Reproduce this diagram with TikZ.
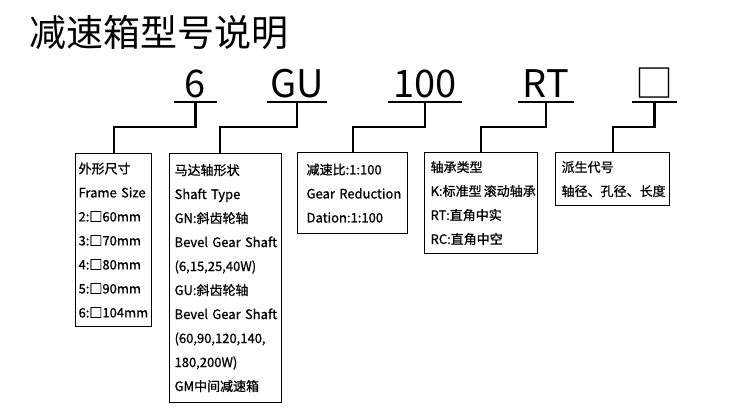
\documentclass[tikz,border=0pt]{standalone}
\usepackage{fontspec}
\setmainfont{Noto Sans CJK SC}
\newfontfamily\boxfont{Noto Sans CJK SC}[FakeBold=0.8]
\hyphenpenalty=10000
\exhyphenpenalty=10000
\tikzset{
  infobox/.style={draw, line width=1.2pt, anchor=north west, align=left,
    font=\boxfont\fontsize{13}{24}\selectfont, inner ysep=0pt},
  codepart/.style={font=\fontsize{38}{38}\selectfont, anchor=base,
    text depth=0pt, inner ysep=4pt, minimum width=#1},
  underline/.style={line width=2.4pt},
  link/.style={line width=2.2pt}
}

\begin{document}
\begin{tikzpicture}[x=1pt, y=-1pt]
    \useasboundingbox (0,0) rectangle (750,420);
    \node[anchor=base west, inner sep=0pt, font=\fontsize{37}{37}\selectfont] (title) at (29,47) {减速箱型号说明};

    % model code
    \node[codepart=43] (csize) at (195.5,98) {6};
    \node[codepart=56] (cshaft) at (297,98) {GU};
    \node[codepart=74] (cratio) at (425,98) {100};
    \node[codepart=56] (cbearing) at (546,98) {RT};
    \node[codepart=43] (cextra) at (654.5,98) {□};
    \foreach \c in {csize, cshaft, cratio, cbearing, cextra}
        \draw[underline] (\c.south west) -- (\c.south east);

    % explanation boxes
    \node[infobox, minimum width=76, minimum height=173, inner xsep=3pt, text width=70pt] (size) at (75,153)
        {外形尺寸\\Frame~Size\\2:□60mm\\3:□70mm\\4:□80mm\\5:□90mm\\6:□104mm};
    \node[infobox, minimum width=112, minimum height=249, inner xsep=5pt, text width=102pt] (shaft) at (169,153)
        {马达轴形状\\Shaft~Type\\GN:斜齿轮轴\\Bevel~Gear~Shaft\\(6,15,25,40W)\\GU:斜齿轮轴\\Bevel~Gear~Shaft\\(60,90,120,140,\\180,200W)\\GM中间减速箱};
    \node[infobox, minimum width=110, minimum height=81, inner xsep=9pt, text width=92pt] (ratio) at (297,152)
        {减速比:1:100\\Gear~Reduction\\Dation:1:100};
    \node[infobox, minimum width=113, minimum height=101, inner xsep=6pt, text width=101pt] (bearing) at (424,152)
        {轴承类型\\K:标准型\,滚动轴承\\RT:直角中实\\RC:直角中空};
    \node[infobox, minimum width=114, minimum height=53, inner xsep=6pt, text width=102pt] (extra) at (555,152)
        {派生代号\\轴径、孔径、长度};

    % connectors
    \draw[link] (csize.south) -- ++(0,25) -| (size.north);
    \draw[link] (cshaft.south) -- ++(0,25) -| ([xshift=-6pt]shaft.north);
    \draw[link] (cratio.south) -- ++(0,25) -| (ratio.north);
    \draw[link] (cbearing.south) -- ++(0,25) -| (bearing.north);
    \draw[link] (cextra.south) -- ++(0,25) -| (extra.north);
\end{tikzpicture}
\end{document}
